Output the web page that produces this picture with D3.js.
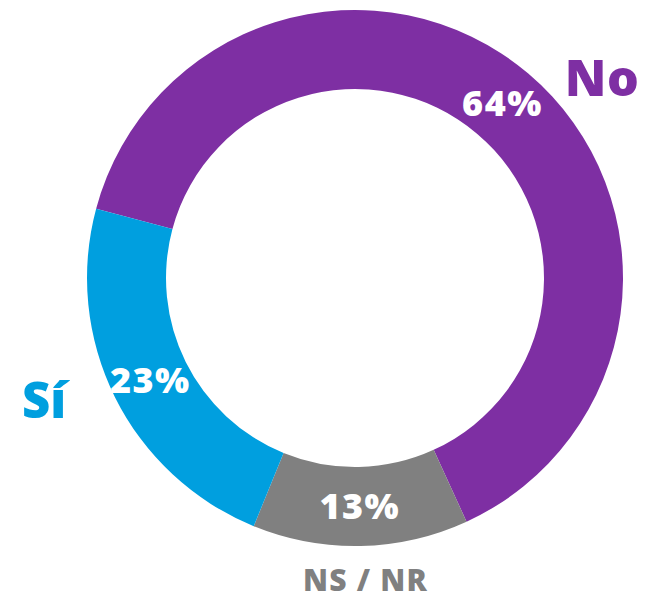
<!DOCTYPE html>
<html>
<head>
<meta charset="utf-8">
<script src="https://cdn.jsdelivr.net/npm/d3@7"></script>
<style>
  body { margin: 0; background: #fff; }
  svg text { font-family: "Open Sans", sans-serif; font-weight: 800; }
</style>
</head>
<body>
<div id="chart"></div>
<script>
const categories = ['No', 'NS / NR', 'Sí'];
const values = [64, 13, 23];
const colors = ['#7e2fa3', '#808080', '#009fdf'];

const W = 649;
const H = 601;
const cx = 355;
const cy = 278;
const outerR = 268;
const innerR = 189;

const svg = d3.select('#chart')
    .append('svg')
    .attr('width', W)
    .attr('height', H);

const g = svg.append('g')
    .attr('transform', `translate(${cx},${cy})`);

const pie = d3.pie()
    .sort(null)
    .value(d => d.value)
    .startAngle(-75 * Math.PI / 180)
    .endAngle(285 * Math.PI / 180);

const data = categories.map((c, i) => ({ name: c, value: values[i], color: colors[i] }));
const arcs = pie(data);

const arc = d3.arc()
    .innerRadius(innerR)
    .outerRadius(outerR);

g.selectAll('path')
    .data(arcs)
    .enter()
    .append('path')
    .attr('d', arc)
    .attr('fill', d => d.data.color);

// percent labels at the centroid of each slice
g.selectAll('text.pct')
    .data(arcs)
    .enter()
    .append('text')
    .attr('class', 'pct')
    .attr('transform', d => `translate(${arc.centroid(d)})`)
    .attr('text-anchor', 'middle')
    .attr('dy', '0.36em')
    .attr('fill', '#fff')
    .style('font-size', '36px')
    .style('letter-spacing', '1.5px')
    .text(d => `${d.data.value}%`);

// category names outside the ring (hand-placed angle / radius like the original)
const outside = {
    'No': { angle: 51, r: 318, size: 50, ls: 0.5 },
    'NS / NR': { angle: 178, r: 302, size: 30, ls: 1.2 },
    'Sí': { angle: 248.6, r: 334, size: 49, ls: 0 }
};

g.selectAll('text.name')
    .data(arcs)
    .enter()
    .append('text')
    .attr('class', 'name')
    .attr('transform', d => {
        const o = outside[d.data.name];
        const a = o.angle * Math.PI / 180;
        return `translate(${o.r * Math.sin(a)},${-o.r * Math.cos(a)})`;
    })
    .attr('text-anchor', 'middle')
    .attr('dy', '0.36em')
    .attr('fill', d => d.data.color)
    .style('font-size', d => outside[d.data.name].size + 'px')
    .style('letter-spacing', d => outside[d.data.name].ls + 'px')
    .text(d => d.data.name);
</script>
</body>
</html>
